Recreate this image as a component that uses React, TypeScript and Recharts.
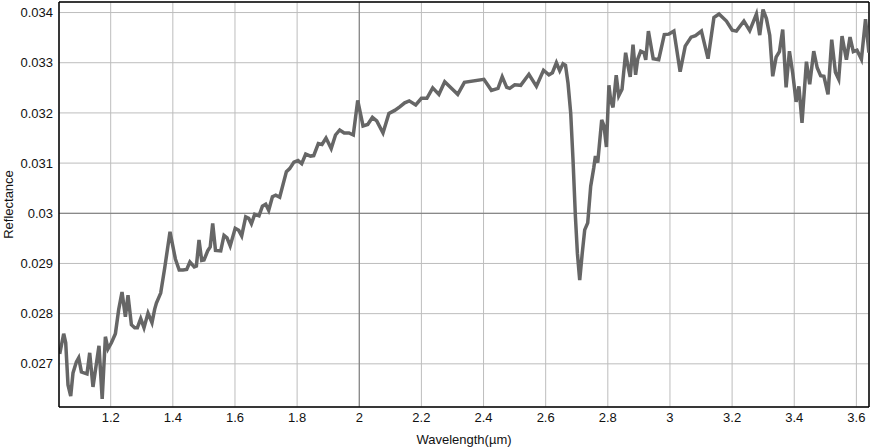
import React from 'react';
import { LineChart, Line, XAxis, YAxis, CartesianGrid, ReferenceLine } from 'recharts';

const wavelengths: number[] = [
  1.0359, 1.0487, 1.0552, 1.0626, 1.0713, 1.0787, 1.0896, 1.0970, 1.1057, 1.1141,
  1.1237, 1.1324, 1.1430, 1.1623, 1.1726, 1.1829, 1.1913, 1.2023, 1.2151, 1.2257,
  1.2364, 1.2473, 1.2557, 1.2666, 1.2772, 1.2859, 1.2966, 1.3072, 1.3201, 1.3329,
  1.3416, 1.3471, 1.3609, 1.3738, 1.3909, 1.4082, 1.4205, 1.4327, 1.4446, 1.4549,
  1.4688, 1.4758, 1.4842, 1.4929, 1.5003, 1.5122, 1.5203, 1.5283, 1.5373, 1.5541,
  1.5647, 1.5743, 1.5846, 1.6007, 1.6120, 1.6216, 1.6345, 1.6442, 1.6529, 1.6635,
  1.6773, 1.6883, 1.6989, 1.7085, 1.7205, 1.7311, 1.7439, 1.7655, 1.7761, 1.7897,
  1.8028, 1.8148, 1.8276, 1.8428, 1.8534, 1.8682, 1.8801, 1.8930, 1.9097, 1.9235,
  1.9371, 1.9515, 1.9670, 1.9808, 1.9950, 2.0121, 2.0272, 2.0423, 2.0562, 2.0764,
  2.0954, 2.1141, 2.1302, 2.1463, 2.1608, 2.1817, 2.2000, 2.2177, 2.2364, 2.2564,
  2.2750, 2.2966, 2.3169, 2.3384, 2.4012, 2.4253, 2.4466, 2.4601, 2.4746, 2.4842,
  2.5003, 2.5196, 2.5460, 2.5702, 2.5930, 2.6104, 2.6217, 2.6345, 2.6452, 2.6558,
  2.6638, 2.6719, 2.6806, 2.6880, 2.6957, 2.7021, 2.7095, 2.7176, 2.7256, 2.7353,
  2.7449, 2.7546, 2.7601, 2.7675, 2.7803, 2.7877, 2.7955, 2.8035, 2.8093, 2.8167,
  2.8270, 2.8351, 2.8457, 2.8573, 2.8650, 2.8721, 2.8811, 2.8894, 2.8962, 2.9059,
  2.9165, 2.9220, 2.9306, 2.9461, 2.9638, 2.9818, 2.9966, 3.0127, 3.0327, 3.0491,
  3.0681, 3.0822, 3.1012, 3.1225, 3.1415, 3.1579, 3.1817, 3.2004, 3.2139, 3.2380,
  3.2567, 3.2783, 3.2889, 3.2995, 3.3104, 3.3211, 3.3307, 3.3417, 3.3523, 3.3629,
  3.3738, 3.3845, 3.3951, 3.4060, 3.4150, 3.4250, 3.4392, 3.4498, 3.4627, 3.4739,
  3.4849, 3.4955, 3.5087, 3.5206, 3.5325, 3.5431, 3.5538, 3.5679, 3.5795, 3.5901,
  3.6020, 3.6162, 3.6294, 3.6403,
];

const reflectance: number[] = [
  0.02720, 0.02760, 0.02742, 0.02658, 0.02636, 0.02682, 0.02704, 0.02712, 0.02684, 0.02682,
  0.02680, 0.02722, 0.02654, 0.02736, 0.02630, 0.02754, 0.02730, 0.02742, 0.02760, 0.02808,
  0.02843, 0.02794, 0.02837, 0.02778, 0.02772, 0.02772, 0.02790, 0.02772, 0.02801, 0.02782,
  0.02809, 0.02821, 0.02841, 0.02891, 0.02963, 0.02909, 0.02887, 0.02887, 0.02888, 0.02903,
  0.02893, 0.02895, 0.02947, 0.02906, 0.02907, 0.02925, 0.02933, 0.02980, 0.02926, 0.02925,
  0.02956, 0.02951, 0.02935, 0.02970, 0.02966, 0.02955, 0.02993, 0.02990, 0.02979, 0.02998,
  0.02995, 0.03014, 0.03018, 0.03006, 0.03033, 0.03036, 0.03032, 0.03083, 0.03089, 0.03102,
  0.03105, 0.03099, 0.03118, 0.03114, 0.03115, 0.03139, 0.03137, 0.03150, 0.03129, 0.03156,
  0.03166, 0.03160, 0.03160, 0.03156, 0.03225, 0.03174, 0.03177, 0.03191, 0.03184, 0.03160,
  0.03199, 0.03205, 0.03212, 0.03220, 0.03224, 0.03216, 0.03229, 0.03229, 0.03250, 0.03237,
  0.03262, 0.03249, 0.03237, 0.03261, 0.03267, 0.03245, 0.03249, 0.03272, 0.03251, 0.03249,
  0.03256, 0.03255, 0.03277, 0.03253, 0.03285, 0.03276, 0.03280, 0.03300, 0.03284, 0.03298,
  0.03295, 0.03259, 0.03199, 0.03106, 0.02993, 0.02920, 0.02867, 0.02920, 0.02967, 0.02981,
  0.03054, 0.03090, 0.03114, 0.03101, 0.03186, 0.03174, 0.03132, 0.03255, 0.03225, 0.03211,
  0.03275, 0.03234, 0.03247, 0.03320, 0.03293, 0.03272, 0.03336, 0.03276, 0.03307, 0.03323,
  0.03320, 0.03306, 0.03363, 0.03308, 0.03306, 0.03356, 0.03357, 0.03363, 0.03282, 0.03333,
  0.03351, 0.03354, 0.03363, 0.03308, 0.03390, 0.03397, 0.03383, 0.03365, 0.03363, 0.03383,
  0.03364, 0.03397, 0.03355, 0.03406, 0.03388, 0.03355, 0.03273, 0.03311, 0.03322, 0.03366,
  0.03251, 0.03323, 0.03279, 0.03222, 0.03253, 0.03180, 0.03302, 0.03257, 0.03323, 0.03290,
  0.03274, 0.03273, 0.03237, 0.03346, 0.03281, 0.03267, 0.03353, 0.03306, 0.03351, 0.03322,
  0.03325, 0.03307, 0.03387, 0.03320,
];

const xTicks: number[] = [1.2, 1.4, 1.6, 1.8, 2, 2.2, 2.4, 2.6, 2.8, 3, 3.2, 3.4, 3.6];
const yTicks: number[] = [0.027, 0.028, 0.029, 0.03, 0.031, 0.032, 0.033, 0.034];

const X_MIN = 1.0336;
const X_MAX = 3.6406;
const Y_MIN = 0.02614;
const Y_MAX = 0.03421;

const data = wavelengths.map((wl, i) => ({ wl, r: reflectance[i] }));

export default function App() {
  return (
    <div
      style={{
        position: 'absolute',
        left: 0,
        top: 0,
        width: 871,
        height: 448,
        background: '#fff',
        fontFamily: '"Liberation Sans", Arial, Helvetica, sans-serif',
      }}
    >
      <LineChart width={871} height={448} data={data} margin={{ top: 2, right: 2, bottom: 0, left: 0 }}>
        <CartesianGrid stroke="#bdbdbd" strokeWidth={1} />
        <XAxis
          type="number"
          dataKey="wl"
          domain={[X_MIN, X_MAX]}
          allowDataOverflow
          ticks={xTicks}
          tickLine={false}
          tickSize={4}
          tickMargin={2}
          axisLine={{ stroke: '#000', strokeWidth: 1.5 }}
          tick={{ fill: '#111', fontSize: 13 }}
          height={41}
          label={{ value: 'Wavelength(µm)', position: 'insideBottom', offset: 4, fill: '#111', fontSize: 13 }}
        />
        <YAxis
          type="number"
          dataKey="r"
          domain={[Y_MIN, Y_MAX]}
          allowDataOverflow
          ticks={yTicks}
          tickLine={false}
          tickSize={4}
          tickMargin={2}
          axisLine={{ stroke: '#000', strokeWidth: 1.5 }}
          tick={{ fill: '#111', fontSize: 13 }}
          width={59}
          label={{
            value: 'Reflectance',
            angle: -90,
            position: 'insideLeft',
            offset: 8,
            fill: '#111',
            fontSize: 13,
            style: { textAnchor: 'middle' },
          }}
        />
        <ReferenceLine x={2} stroke="#777" strokeWidth={1} />
        <ReferenceLine y={0.03} stroke="#777" strokeWidth={1} />
        <ReferenceLine y={Y_MAX} stroke="#000" strokeWidth={1.5} />
        <ReferenceLine x={X_MAX} stroke="#000" strokeWidth={1.5} />
        <Line
          type="linear"
          dataKey="r"
          stroke="#666666"
          strokeWidth={3.5}
          dot={false}
          isAnimationActive={false}
        />
      </LineChart>
    </div>
  );
}
